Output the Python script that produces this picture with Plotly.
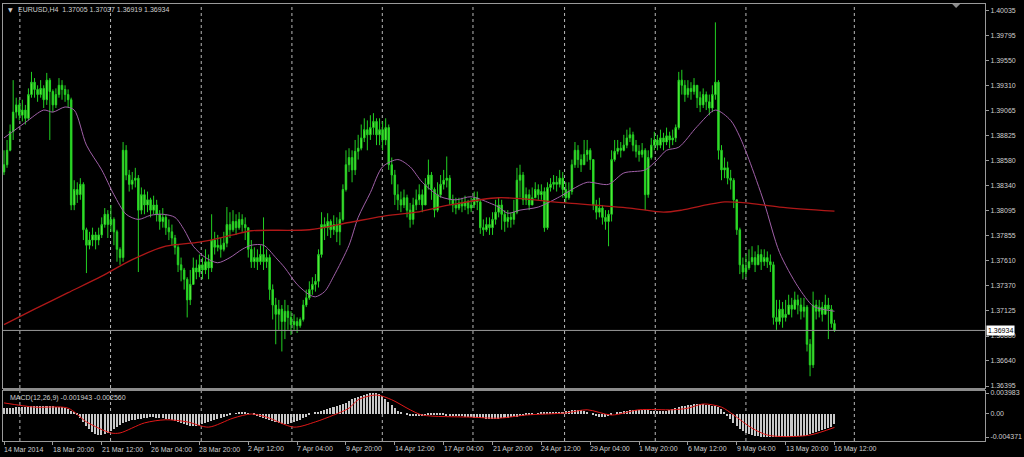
import plotly.graph_objects as go

# ---------------- data ----------------
symbol_header = "EURUSD,H4  1.37005 1.37037 1.36919 1.36934"
macd_header = "MACD(12,26,9) -0.001943 -0.002560"
last_price = 1.36934
first_open = 1.3847

close = [
    1.3854,1.3868,1.3886,1.3905,1.3912,1.3902,1.3907,1.3899,1.3922,1.3934,
    1.3927,1.3922,1.3928,1.3917,1.3936,1.3925,1.3912,1.3922,1.3931,1.3927,
    1.3922,1.3917,1.3815,1.3830,1.3825,1.3835,1.3791,1.3776,1.3781,1.3786,
    1.3781,1.3786,1.3796,1.3806,1.3796,1.3801,1.3789,1.3772,1.3764,1.3868,
    1.3844,1.3835,1.3839,1.3841,1.3810,1.3825,1.3815,1.3820,1.3810,1.3815,
    1.3806,1.3799,1.3803,1.3793,1.3789,1.3783,1.3774,1.3757,1.3752,1.3743,
    1.3723,1.3738,1.3754,1.3750,1.3757,1.3752,1.3760,1.3754,1.3781,1.3774,
    1.3776,1.3772,1.3778,1.3796,1.3791,1.3799,1.3793,1.3801,1.3796,1.3793,
    1.3772,1.3760,1.3764,1.3760,1.3767,1.3760,1.3764,1.3733,1.3718,1.3709,
    1.3714,1.3702,1.3712,1.3706,1.3699,1.3702,1.3698,1.3704,1.3718,1.3725,
    1.3733,1.3738,1.3741,1.3767,1.3796,1.3793,1.3799,1.3791,1.3796,1.3789,
    1.3801,1.3830,1.3854,1.3861,1.3849,1.3867,1.3870,1.3880,1.3888,1.3883,
    1.3890,1.3896,1.3883,1.3888,1.3878,1.3890,1.3854,1.3844,1.3825,1.3820,
    1.3815,1.3822,1.3810,1.3801,1.3815,1.3820,1.3825,1.3815,1.3835,1.3844,
    1.3830,1.3810,1.3825,1.3835,1.3839,1.3841,1.3820,1.3815,1.3812,1.3817,
    1.3814,1.3818,1.3812,1.3815,1.3822,1.3818,1.3793,1.3791,1.3796,1.3793,
    1.3801,1.3808,1.3815,1.3806,1.3799,1.3803,1.3801,1.3808,1.3839,1.3844,
    1.3820,1.3825,1.3815,1.3822,1.3830,1.3825,1.3828,1.3793,1.3832,1.3835,
    1.3837,1.3835,1.3841,1.3830,1.3822,1.3828,1.3854,1.3868,1.3859,1.3854,
    1.3864,1.3868,1.3859,1.3815,1.3808,1.3812,1.3803,1.3799,1.3806,1.3859,
    1.3867,1.3870,1.3868,1.3873,1.3880,1.3883,1.3873,1.3867,1.3864,1.3868,
    1.3825,1.3861,1.3873,1.3878,1.3873,1.3880,1.3876,1.3882,1.3878,1.3880,
    1.3890,1.3936,1.3931,1.3922,1.3928,1.3925,1.3931,1.3919,1.3912,1.3922,
    1.3915,1.3909,1.3922,1.3934,1.3868,1.3849,1.3851,1.3841,1.3839,1.3820,
    1.3791,1.3757,1.3750,1.3754,1.3760,1.3764,1.3757,1.3767,1.3760,1.3764,
    1.3760,1.3757,1.3706,1.3702,1.3714,1.3706,1.3709,1.3718,1.3714,1.3723,
    1.3718,1.3712,1.3716,1.3680,1.3660,1.3718,1.3712,1.3716,1.3709,1.3718,
    1.3714,1.3700,1.36934,
]

high = [
    1.3868,1.3878,1.3893,1.3936,1.3919,1.3917,1.3917,1.3912,1.3928,1.3944,
    1.3938,1.3931,1.3936,1.3931,1.3943,1.3938,1.3927,1.3928,1.3938,1.3936,
    1.3931,1.3927,1.3919,1.3839,1.3837,1.3841,1.3837,1.3793,1.3789,1.3793,
    1.3789,1.3793,1.3803,1.3812,1.3810,1.3815,1.3803,1.3791,1.3774,1.3876,
    1.3873,1.3849,1.3847,1.3851,1.3844,1.3832,1.3830,1.3828,1.3822,1.3824,
    1.3820,1.3810,1.3812,1.3806,1.3801,1.3796,1.3786,1.3776,1.3764,1.3754,
    1.3745,1.3752,1.3764,1.3762,1.3767,1.3764,1.3772,1.3767,1.3806,1.3789,
    1.3786,1.3783,1.3789,1.3813,1.3808,1.3810,1.3806,1.3808,1.3806,1.3803,
    1.3793,1.3781,1.3774,1.3772,1.3776,1.3803,1.3772,1.3767,1.3738,1.3725,
    1.3723,1.3718,1.3723,1.3718,1.3712,1.3709,1.3706,1.3706,1.3723,1.3733,
    1.3741,1.3745,1.3748,1.3772,1.3808,1.3803,1.3807,1.3801,1.3805,1.3803,
    1.3808,1.3835,1.3868,1.3870,1.3868,1.3878,1.3883,1.3893,1.3899,1.3897,
    1.3902,1.3904,1.3899,1.3899,1.3896,1.3899,1.3893,1.3861,1.3849,1.3835,
    1.3828,1.3830,1.3825,1.3817,1.3822,1.3830,1.3835,1.3830,1.3841,1.3859,
    1.3847,1.3832,1.3837,1.3844,1.3849,1.3862,1.3844,1.3825,1.3822,1.3822,
    1.3822,1.3824,1.3820,1.3822,1.3828,1.3828,1.3820,1.3801,1.3803,1.3803,
    1.3808,1.3820,1.3822,1.3820,1.3810,1.3810,1.3808,1.3820,1.3851,1.3854,
    1.3847,1.3832,1.3830,1.3832,1.3837,1.3835,1.3835,1.3832,1.3837,1.3841,
    1.3844,1.3843,1.3849,1.3847,1.3837,1.3837,1.3859,1.3876,1.3873,1.3864,
    1.3878,1.3878,1.3870,1.3859,1.3820,1.3822,1.3815,1.3810,1.3810,1.3868,
    1.3878,1.3878,1.3876,1.3883,1.3888,1.3890,1.3886,1.3878,1.3873,1.3875,
    1.3870,1.3868,1.3880,1.3886,1.3883,1.3888,1.3885,1.3890,1.3886,1.3888,
    1.3893,1.3944,1.3946,1.3936,1.3936,1.3934,1.3938,1.3931,1.3925,1.3928,
    1.3925,1.3922,1.3931,1.3992,1.3936,1.3873,1.3861,1.3857,1.3849,1.3841,
    1.3820,1.3793,1.3764,1.3767,1.3772,1.3775,1.3770,1.3776,1.3772,1.3772,
    1.3770,1.3767,1.3760,1.3723,1.3723,1.3721,1.3723,1.3728,1.3725,1.3731,
    1.3728,1.3725,1.3725,1.3718,1.3685,1.3731,1.3723,1.3723,1.3721,1.3728,
    1.3725,1.3718,1.37037,
]

low = [
    1.3844,1.3851,1.3867,1.3878,1.3899,1.3897,1.3896,1.3893,1.3897,1.3919,
    1.3919,1.3915,1.3919,1.3909,1.3912,1.3878,1.3905,1.3909,1.3919,1.3917,
    1.3915,1.3909,1.3810,1.3810,1.3817,1.3820,1.3781,1.3749,1.3772,1.3775,
    1.3772,1.3776,1.3783,1.3793,1.3783,1.3789,1.3776,1.3760,1.3757,1.3760,
    1.3839,1.3828,1.3830,1.3832,1.3750,1.3806,1.3806,1.3808,1.3803,1.3806,
    1.3799,1.3791,1.3793,1.3786,1.3781,1.3776,1.3767,1.3750,1.3741,1.3733,
    1.3706,1.3718,1.3738,1.3743,1.3745,1.3743,1.3748,1.3743,1.3750,1.3767,
    1.3770,1.3764,1.3770,1.3774,1.3783,1.3789,1.3786,1.3791,1.3789,1.3781,
    1.3764,1.3754,1.3754,1.3752,1.3757,1.3752,1.3754,1.3723,1.3704,1.3680,
    1.3694,1.3673,1.3685,1.3694,1.3689,1.3694,1.3691,1.3696,1.3702,1.3716,
    1.3723,1.3728,1.3731,1.3735,1.3764,1.3781,1.3785,1.3783,1.3786,1.3779,
    1.3776,1.3799,1.3828,1.3847,1.3837,1.3844,1.3859,1.3868,1.3876,1.3868,
    1.3878,1.3883,1.3873,1.3873,1.3868,1.3873,1.3849,1.3835,1.3815,1.3810,
    1.3808,1.3812,1.3803,1.3793,1.3796,1.3810,1.3815,1.3808,1.3815,1.3830,
    1.3820,1.3803,1.3808,1.3822,1.3830,1.3832,1.3815,1.3808,1.3806,1.3810,
    1.3808,1.3810,1.3806,1.3808,1.3812,1.3810,1.3787,1.3785,1.3789,1.3786,
    1.3786,1.3796,1.3803,1.3791,1.3789,1.3793,1.3793,1.3796,1.3806,1.3822,
    1.3815,1.3815,1.3810,1.3815,1.3822,1.3820,1.3820,1.3789,1.3791,1.3828,
    1.3830,1.3828,1.3832,1.3822,1.3817,1.3820,1.3825,1.3851,1.3851,1.3847,
    1.3854,1.3857,1.3849,1.3810,1.3801,1.3803,1.3796,1.3791,1.3775,1.3799,
    1.3857,1.3864,1.3861,1.3867,1.3870,1.3876,1.3867,1.3861,1.3857,1.3861,
    1.3810,1.3822,1.3859,1.3868,1.3868,1.3870,1.3868,1.3873,1.3870,1.3873,
    1.3876,1.3888,1.3922,1.3915,1.3919,1.3917,1.3922,1.3909,1.3905,1.3909,
    1.3907,1.3902,1.3905,1.3917,1.3859,1.3839,1.3841,1.3835,1.3830,1.3812,
    1.3786,1.3748,1.3743,1.3745,1.3752,1.3757,1.3750,1.3757,1.3752,1.3756,
    1.3754,1.3750,1.3699,1.3694,1.3699,1.3696,1.3702,1.3709,1.3706,1.3714,
    1.3709,1.3704,1.3706,1.3673,1.3649,1.3657,1.3704,1.3706,1.3702,1.3709,
    1.3685,1.3696,1.36919,
]

# moving averages (sampled at bar indices)
fast_ma_idx = [0,7,13,16,20,23,27,32,36,40,44,48,52,56,59,62,66,70,74,78,
               81,85,89,92,96,100,102,105,108,113,116,120,124,129,133,137,143,148,153,159,
               162,165,169,175,182,186,191,198,203,210,214,217,221,227,233,238,241,244,249,254,
               260,265,268,272]
fast_ma = [1.3880,1.3895,1.3907,1.3905,1.3910,1.3907,1.3873,1.3849,1.3825,1.3806,
           1.3801,1.3805,1.3806,1.3803,1.3791,1.3775,1.3764,1.3759,1.3764,1.3772,
           1.3776,1.3776,1.3764,1.3754,1.3738,1.3728,1.3726,1.3731,1.3746,1.3776,
           1.3803,1.3827,1.3852,1.3859,1.3852,1.3837,1.3823,1.3820,1.3823,1.3817,
           1.3813,1.3807,1.3810,1.3813,1.3823,1.3830,1.3837,1.3835,1.3846,1.3849,
           1.3859,1.3868,1.3871,1.3891,1.3907,1.3897,1.3881,1.3859,1.3817,1.3769,
           1.3736,1.3717,1.3714,1.3712]

slow_ma_idx = [0,10,21,32,42,53,64,75,81,100,113,124,135,146,162,184,205,216,222,230,236,243,254,272]
slow_ma = [1.3699,1.3714,1.3730,1.3746,1.3762,1.3775,1.3779,1.3786,1.3790,1.3791,1.3798,1.3804,
           1.3808,1.3815,1.3822,1.3817,1.3812,1.3808,1.3810,1.3815,1.3818,1.3817,1.3813,1.3809]

# MACD histogram (one value per bar)
macd_main = [
    0.0011,0.0011,0.0011,0.0011,0.0013,0.0013,0.0013,0.0013,0.0013,0.0015,0.0015,0.0015,0.0015,0.0015,0.0015,0.0015,0.0015,0.0013,0.0013,0.0013,0.0011,
    0.0010,0.0006,0.0002,
    -0.0002,-0.0008,-0.0015,-0.0023,-0.0029,-0.0034,
    -0.0038,-0.0040,-0.0040,-0.0038,-0.0036,
    -0.0032,-0.0029,-0.0025,-0.0021,-0.0017,
    -0.0015,-0.0013,-0.0011,-0.0011,-0.0010,-0.0010,
    -0.0008,-0.0008,-0.0006,-0.0006,-0.0008,-0.0008,-0.0008,-0.0010,-0.0010,
    -0.0011,-0.0013,-0.0015,-0.0017,-0.0019,-0.0021,-0.0023,-0.0023,-0.0023,-0.0021,-0.0019,
    -0.0017,-0.0015,-0.0013,-0.0011,-0.0010,-0.0008,-0.0006,-0.0004,-0.0002,
    0.0000,0.0001,0.0002,0.0002,0.0002,0.0001,0.0000,-0.0002,
    -0.0004,-0.0006,-0.0008,-0.0010,-0.0011,-0.0013,
    -0.0015,-0.0017,-0.0019,-0.0019,-0.0019,-0.0017,-0.0015,-0.0013,
    -0.0011,-0.0008,-0.0006,-0.0002,0.0000,
    0.0002,0.0004,0.0006,0.0008,0.0010,0.0011,0.0013,0.0015,0.0017,0.0019,0.0021,
    0.0025,0.0029,0.0030,0.0032,0.0034,0.0036,0.0038,0.0039,0.003983,0.0039,0.0038,
    0.0034,0.0029,0.0023,0.0017,0.0011,0.0006,0.0002,0.0000,
    -0.0002,-0.0004,-0.0004,-0.0004,-0.0004,
    -0.0004,-0.0004,-0.0002,-0.0002,-0.0002,-0.0002,-0.0002,-0.0002,-0.0004,-0.0004,-0.0004,-0.0004,-0.0004,-0.0004,-0.0006,-0.0006,
    -0.0006,-0.0008,-0.0008,-0.0008,-0.0008,-0.0010,-0.0010,-0.0010,-0.0010,-0.0010,-0.0008,-0.0008,-0.0008,-0.0006,-0.0006,-0.0006,-0.0004,-0.0004,
    -0.0002,-0.0002,-0.0001,0.0000,0.0001,0.0002,0.0002,0.0002,0.0002,0.0002,0.0002,0.0004,0.0004,
    0.0006,0.0006,0.0008,0.0008,0.0008,0.0008,0.0006,0.0004,
    0.0000,-0.0002,-0.0004,-0.0006,-0.0006,-0.0006,-0.0004,
    -0.0002,0.0000,0.0002,0.0004,0.0006,0.0006,0.0008,0.0008,0.0008,0.0008,0.0008,0.0008,0.0008,0.0006,0.0006,0.0006,0.0006,0.0006,0.0006,0.0008,
    0.0010,0.0011,0.0013,0.0015,0.0015,0.0017,0.0017,0.0019,0.0019,0.0019,0.0019,0.0017,0.0017,
    0.0015,0.0015,0.0013,0.0010,
    0.0004,-0.0004,-0.0010,-0.0017,-0.0023,-0.0029,
    -0.0032,-0.0036,-0.0038,-0.0040,-0.0042,-0.0042,-0.0043,-0.0043,-0.004371,-0.0043,-0.0043,
    -0.0043,-0.0043,-0.0043,-0.0043,-0.0043,-0.0042,-0.0042,-0.0042,-0.0042,
    -0.0042,-0.0040,-0.0038,-0.0036,-0.0034,-0.0032,-0.0030,-0.0029,-0.0027,-0.0024,-0.001943,
]

signal_idx = [0,10,21,27,35,38,46,53,60,67,75,81,86,95,102,108,113,116,122,127,
              133,137,153,162,171,184,191,199,208,219,224,229,235,239,245,250,256,264,272]
signal = [0.0021,0.0013,0.0011,-0.0015,-0.0036,-0.0036,-0.0017,-0.0011,-0.0015,-0.0025,
          -0.0008,0.0000,-0.0006,-0.0025,-0.0015,-0.0002,0.0011,0.0027,0.0036,0.0027,
          0.0008,-0.0002,-0.0006,-0.0008,-0.0002,0.0002,0.0008,-0.0002,0.0008,0.0008,
          0.0011,0.0019,0.0013,-0.0002,-0.0027,-0.0040,-0.0043,-0.0040,-0.00256]

price_tick_vals = [1.40035,1.39795,1.39550,1.39310,1.39065,1.38825,1.38580,1.38340,1.38095,
                   1.37855,1.37610,1.37370,1.37125,1.36880,1.36640,1.36395]
price_tick_text = ["1.40035","1.39795","1.39550","1.39310","1.39065","1.38825","1.38580","1.38340",
                   "1.38095","1.37855","1.37610","1.37370","1.37125","1.36880","1.36640","1.36395"]
macd_tick_vals = [0.003983, 0.0, -0.004371]
macd_tick_text = ["0.003983", "0.00", "-0.004371"]

time_labels = ["14 Mar 2014","18 Mar 20:00","21 Mar 12:00","26 Mar 04:00","28 Mar 20:00","2 Apr 12:00",
               "7 Apr 04:00","9 Apr 20:00","14 Apr 12:00","17 Apr 04:00","21 Apr 20:00","24 Apr 12:00",
               "29 Apr 04:00","1 May 20:00","6 May 12:00","9 May 04:00","13 May 20:00","16 May 12:00"]
time_label_idx = [0,16,32,48,64,80,96,112,128,144,160,176,192,208,224,240,256,272]

# ---------------- build ----------------
N = len(close)
bars = list(range(N))
open_ = [first_open] + close[:-1]
high = [max(h, o, c) for h, o, c in zip(high, open_, close)]
low = [min(l, o, c) for l, o, c in zip(low, open_, close)]

W, H = 1024, 457
L_PX, R_PX, T_PX, B_PX = 2, 989, 4, 441
def py(pix):
    return (B_PX - pix) / (B_PX - T_PX)
def px(pix):
    return (pix - L_PX) / (R_PX - L_PX)

XR = [-0.33, 321.3]
FONT = "Liberation Sans, Arial, sans-serif"
TXT = "#cfcfcf"
FRAME = "#9a9a9a"

fig = go.Figure()
fig.add_trace(go.Candlestick(
    x=bars, open=open_, high=high, low=low, close=close,
    increasing=dict(line=dict(color="#22d022", width=1), fillcolor="#7cff4c"),
    decreasing=dict(line=dict(color="#22d022", width=1), fillcolor="#44e030"),
    whiskerwidth=0, xaxis="x", yaxis="y", hoverinfo="skip", showlegend=False))
fig.add_trace(go.Scatter(x=fast_ma_idx, y=fast_ma, mode="lines",
                         line=dict(color="#a060a8", width=1, shape="spline", smoothing=0.8),
                         xaxis="x", yaxis="y", hoverinfo="skip", showlegend=False))
fig.add_trace(go.Scatter(x=slow_ma_idx, y=slow_ma, mode="lines",
                         line=dict(color="#b01818", width=1.3, shape="spline", smoothing=0.8),
                         xaxis="x", yaxis="y", hoverinfo="skip", showlegend=False))
fig.add_trace(go.Bar(x=bars, y=macd_main, width=0.5, marker=dict(color="#c8c8c8", line=dict(width=0)),
                     xaxis="x2", yaxis="y2", hoverinfo="skip", showlegend=False))
fig.add_trace(go.Scatter(x=signal_idx, y=signal, mode="lines",
                         line=dict(color="#e01818", width=1, shape="spline", smoothing=0.8),
                         xaxis="x2", yaxis="y2", hoverinfo="skip", showlegend=False))

main_bottom = py(388)
macd_top = py(391)

axis_common = dict(showgrid=False, zeroline=False, showline=True, mirror=True,
                   linecolor=FRAME, linewidth=1, fixedrange=True)

fig.update_layout(
    width=W, height=H,
    margin=dict(l=L_PX, r=W - R_PX, t=T_PX, b=H - B_PX),
    paper_bgcolor="#000000", plot_bgcolor="rgba(0,0,0,0)",
    showlegend=False, bargap=0,
    font=dict(family=FONT, size=7, color=TXT),
    xaxis=dict(domain=[0, 1], range=XR, anchor="y", showticklabels=False, ticks="",
               rangeslider=dict(visible=False), **axis_common),
    yaxis=dict(domain=[main_bottom, 1], range=[1.36376, 1.40098], side="right", anchor="x",
               tickvals=price_tick_vals, ticktext=price_tick_text, ticks="outside", ticklen=3,
               tickcolor=FRAME, tickfont=dict(family=FONT, size=7, color=TXT), **axis_common),
    xaxis2=dict(domain=[0, 1], range=XR, anchor="y2", tickvals=time_label_idx, ticks="outside",
                ticklen=3, tickcolor=FRAME, showticklabels=False, **axis_common),
    yaxis2=dict(domain=[0, macd_top], range=[-0.005131, 0.004363], side="right", anchor="x2",
                tickvals=macd_tick_vals, ticktext=macd_tick_text, ticks="outside", ticklen=3,
                tickcolor=FRAME, tickfont=dict(family=FONT, size=7, color=TXT), **axis_common),
)

# dotted vertical grid (positions in bar units)
grid_pos = [5.2, 34.9, 64.6, 94.3, 123.9, 153.6, 183.6, 213.3, 243.0, 278.5]
shapes = []
for g in grid_pos:
    for xr, yr in (("x", "y domain"), ("x2", "y2 domain")):
        shapes.append(dict(type="line", xref=xr, yref=yr, x0=g, x1=g, y0=0, y1=1,
                           line=dict(color="#b8b8b8", width=1, dash="dot"), layer="below"))
# current price line
shapes.append(dict(type="line", xref="x domain", yref="y", x0=0, x1=1, y0=last_price, y1=last_price,
                   line=dict(color="#9a9a9a", width=1), layer="above"))
# splitter between panels
shapes.append(dict(type="rect", xref="paper", yref="paper", x0=0, x1=1, y0=py(391), y1=py(388),
                   fillcolor="#8c8c8c", line=dict(width=0), layer="above"))
# chart-shift marker
shapes.append(dict(type="path", xref="paper", yref="paper",
                   path=f"M {px(956)} {py(4)} L {px(964)} {py(4)} L {px(960)} {py(8)} Z",
                   fillcolor="#8c8c8c", line=dict(width=0)))
fig.update_layout(shapes=shapes)

ann = []
ann.append(dict(xref="paper", yref="paper", x=px(5), y=py(10), xanchor="left", yanchor="middle",
                text="▼", showarrow=False, font=dict(family="DejaVu Sans", size=6, color=TXT)))
ann.append(dict(xref="paper", yref="paper", x=px(15), y=py(10), xanchor="left", yanchor="middle",
                text=symbol_header, showarrow=False, font=dict(family=FONT, size=7, color=TXT)))
ann.append(dict(xref="paper", yref="paper", x=px(7), y=py(398), xanchor="left", yanchor="middle",
                text=macd_header, showarrow=False, font=dict(family=FONT, size=7, color=TXT)))
for lbl, idx in zip(time_labels, time_label_idx):
    ann.append(dict(xref="x", yref="paper", x=idx, y=py(449), xanchor="left", yanchor="middle",
                    xshift=-2, text=lbl, showarrow=False, font=dict(family=FONT, size=7, color=TXT)))
ann.append(dict(xref="paper", yref="y", x=1, y=last_price, xanchor="left", yanchor="middle",
                xshift=1, text=f"{last_price:.5f}", showarrow=False, bgcolor="#ffffff",
                borderpad=1, font=dict(family=FONT, size=7, color="#000000")))
fig.update_layout(annotations=ann)

fig.write_html(
    "out.html",
    config={"displayModeBar": False},
    post_script="document.body.style.margin='0';document.body.style.padding='0';"
                "document.documentElement.style.overflow='hidden';",
)
